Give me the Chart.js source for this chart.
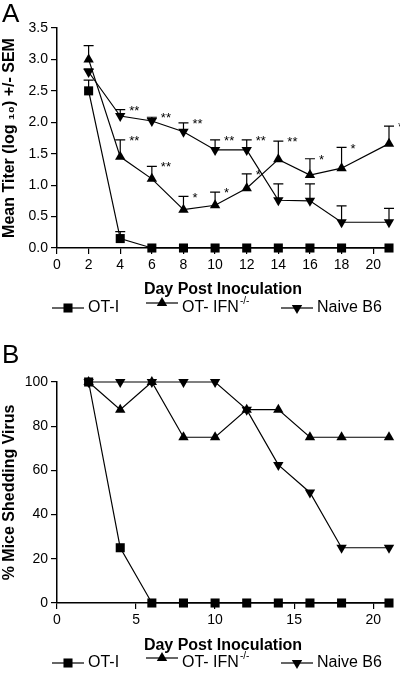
<!DOCTYPE html>
<html>
<head>
<meta charset="utf-8">
<script src="https://cdn.jsdelivr.net/npm/chart.js@4.4.1/dist/chart.umd.min.js"></script>
<style>
  html, body { margin: 0; padding: 0; background: #fff; }
  body { width: 400px; height: 678px; position: relative; overflow: hidden; font-family: "Liberation Sans", Arial, sans-serif; }
  .panel { position: absolute; left: 0; width: 400px; }
  #panelA { top: 0; height: 330px; }
  #panelB { top: 330px; height: 348px; }
  .tag { position: absolute; left: 2px; font-size: 26px; color: #000; line-height: 1; }
</style>
</head>
<body>
<div class="panel" id="panelA"><canvas id="chartA" width="400" height="330"></canvas></div>
<div class="panel" id="panelB"><canvas id="chartB" width="400" height="348"></canvas></div>
<div class="tag" style="top:0px">A</div>
<div class="tag" style="top:341px">B</div>
<script>
const days = [2, 4, 6, 8, 10, 12, 14, 16, 18, 21];

// panel A: mean titer (log10) and SEM
const otiTiter   = [2.5, 0.15, 0, 0, 0, 0, 0, 0, 0, 0];
const otiSem     = [0.17, 0.11, 0, 0, 0, 0, 0, 0, 0, 0];
const ifnTiter   = [3.0, 1.45, 1.1, 0.61, 0.68, 0.95, 1.41, 1.16, 1.27, 1.66];
const ifnSem     = [0.22, 0.27, 0.2, 0.21, 0.21, 0.23, 0.29, 0.26, 0.33, 0.28];
const naiveTiter = [2.8, 2.1, 2.02, 1.85, 1.56, 1.56, 0.76, 0.75, 0.41, 0.41];
const naiveSem   = [0.05, 0.1, 0.06, 0.14, 0.16, 0.16, 0.26, 0.27, 0.26, 0.22];
const ifnStars   = ['', '**', '**', '*', '*', '*', '**', '*', '*', '*'];
const naiveStars = ['', '**', '**', '**', '**', '**', '', '', '', ''];

// panel B: % mice shedding virus
const otiShed   = [100, 25, 0, 0, 0, 0, 0, 0, 0, 0];
const ifnShed   = [100, 87.5, 100, 75, 75, 87.5, 87.5, 75, 75, 75];
const naiveShed = [100, 100, 100, 100, 100, 87.5, 62.5, 50, 25, 25];

const yTicksA = [0, 0.5, 1.0, 1.5, 2.0, 2.5, 3.0, 3.5];
const xTicksA = [0, 2, 4, 6, 8, 10, 12, 14, 16, 18, 20];
const yTicksB = [0, 20, 40, 60, 80, 100];
const xTicksB = [0, 5, 10, 15, 20];

const FONT = '"Liberation Sans", Arial, sans-serif';
const seriesNames = ['OT-I', 'OT- IFN', 'Naive B6'];
const markers = [
  { pointStyle: 'rect', radius: 6.4, rotation: 0 },
  { pointStyle: 'triangle', radius: 6, rotation: 0 },
  { pointStyle: 'triangle', radius: 6, rotation: 180 }
];

function toPoints(vals) {
  return vals.map((v, i) => ({ x: days[i], y: v }));
}

function makeDataset(label, vals, m) {
  return {
    label: label,
    data: toPoints(vals),
    borderColor: '#000',
    backgroundColor: '#000',
    borderWidth: 1.2,
    pointStyle: m.pointStyle,
    pointRadius: m.radius,
    pointHoverRadius: m.radius,
    pointRotation: m.rotation,
    pointBorderWidth: 0,
    tension: 0,
    clip: false
  };
}

// error bars (+SEM only) under the markers, significance stars on top
const errorBars = {
  id: 'errorBars',
  beforeDatasetsDraw(chart, args, opts) {
    if (!opts.sems) return;
    const ctx = chart.ctx;
    const xs = chart.scales.x, ys = chart.scales.y;
    ctx.save();
    ctx.strokeStyle = '#000';
    ctx.lineWidth = 1.2;
    opts.sems.forEach((sem, di) => {
      const vals = chart.data.datasets[di].data;
      sem.forEach((s, i) => {
        if (!s) return;
        const px = xs.getPixelForValue(vals[i].x);
        const y0 = ys.getPixelForValue(vals[i].y);
        const y1 = ys.getPixelForValue(vals[i].y + s);
        ctx.beginPath();
        ctx.moveTo(px, y0);
        ctx.lineTo(px, y1);
        ctx.moveTo(px - 5, y1);
        ctx.lineTo(px + 5, y1);
        ctx.stroke();
      });
    });
    ctx.restore();
  },
  afterDatasetsDraw(chart, args, opts) {
    if (!opts.stars) return;
    const ctx = chart.ctx;
    const xs = chart.scales.x, ys = chart.scales.y;
    ctx.save();
    ctx.fillStyle = '#000';
    ctx.font = '13px ' + FONT;
    ctx.textAlign = 'left';
    ctx.textBaseline = 'top';
    opts.stars.forEach(st => {
      const vals = chart.data.datasets[st.ds].data;
      const sem = opts.sems[st.ds];
      st.labels.forEach((t, i) => {
        if (!t) return;
        const px = xs.getPixelForValue(vals[i].x);
        const py = ys.getPixelForValue(vals[i].y + sem[i]);
        ctx.fillText(t, px + 9, py - 5);
      });
    });
    ctx.restore();
  }
};

// legend: line segment with marker, label with superscript for IFN-/-
const lineLegend = {
  id: 'lineLegend',
  afterDraw(chart, args, opts) {
    const ctx = chart.ctx;
    const y = opts.y;
    ctx.save();
    chart.data.datasets.forEach((ds, i) => {
      const x0 = opts.starts[i];
      const ly = i === 1 ? y - 5 : y;
      ctx.strokeStyle = '#000';
      ctx.lineWidth = 1.2;
      ctx.beginPath();
      ctx.moveTo(x0, ly);
      ctx.lineTo(x0 + 32, ly);
      ctx.stroke();
      Chart.helpers.drawPoint(ctx, {
        pointStyle: ds.pointStyle,
        radius: ds.pointRadius,
        rotation: ds.pointRotation,
        borderWidth: 0
      }, x0 + 16, ly);
      ctx.fillStyle = '#000';
      ctx.font = '16px ' + FONT;
      ctx.textAlign = 'left';
      ctx.textBaseline = 'middle';
      ctx.fillText(ds.label, x0 + 36, y);
      if (i === 1) {
        const w = ctx.measureText(ds.label).width;
        ctx.font = '10px ' + FONT;
        ctx.fillText('-/-', x0 + 36 + w + 1, y - 7);
      }
    });
    ctx.restore();
  }
};

function axisCommon(min, max, ticks, fmt, title, fit) {
  return {
    type: 'linear',
    min: min,
    max: max,
    afterBuildTicks: s => { s.ticks = ticks.map(v => ({ value: v })); },
    afterFit: fit,
    ticks: {
      color: '#000',
      font: { family: FONT, size: 14 },
      padding: 3,
      maxRotation: 0,
      autoSkip: false,
      callback: fmt
    },
    grid: { display: true, drawOnChartArea: false, drawTicks: true, tickLength: 6, color: '#000', lineWidth: 1.2 },
    border: { display: true, color: '#000', width: 1.5 },
    title: {
      display: true,
      text: title,
      color: '#000',
      font: { family: FONT, size: 16, weight: 'bold' },
      padding: { top: 0, bottom: 4 }
    }
  };
}

function buildChart(id, sets, opt) {
  return new Chart(document.getElementById(id), {
    type: 'line',
    data: { datasets: sets },
    options: {
      responsive: false,
      animation: false,
      events: [],
      layout: { padding: opt.padding },
      plugins: {
        legend: { display: false },
        tooltip: { enabled: false },
        errorBars: { sems: opt.sems, stars: opt.stars },
        lineLegend: { y: opt.legendY, starts: [52, 146, 281] }
      },
      scales: {
        x: axisCommon(0, 21, opt.xTicks, v => String(v), 'Day Post Inoculation', s => { s.height = opt.xHeight; }),
        y: axisCommon(opt.yMin, opt.yMax, opt.yTicks, opt.yFmt, opt.yTitle, s => { s.width = 57; })
      }
    },
    plugins: [errorBars, lineLegend]
  });
}

buildChart('chartA', [
  makeDataset(seriesNames[0], otiTiter, markers[0]),
  makeDataset(seriesNames[1], ifnTiter, markers[1]),
  makeDataset(seriesNames[2], naiveTiter, markers[2])
], {
  padding: { left: 0, right: 11, top: 28, bottom: 27 },
  xHeight: 55,
  xTicks: xTicksA,
  yMin: 0, yMax: 3.5,
  yTicks: yTicksA,
  yFmt: v => Number(v).toFixed(1),
  yTitle: 'Mean Titer (log \u2081\u2080) +/- SEM',
  sems: [otiSem, ifnSem, naiveSem],
  stars: [{ ds: 1, labels: ifnStars }, { ds: 2, labels: naiveStars }],
  legendY: 308
});

buildChart('chartB', [
  makeDataset(seriesNames[0], otiShed, markers[0]),
  makeDataset(seriesNames[1], ifnShed, markers[1]),
  makeDataset(seriesNames[2], naiveShed, markers[2])
], {
  padding: { left: 0, right: 11, top: 52, bottom: 19 },
  xHeight: 56,
  xTicks: xTicksB,
  yMin: 0, yMax: 100,
  yTicks: yTicksB,
  yFmt: v => String(v),
  yTitle: '% Mice Shedding Virus',
  sems: null,
  stars: null,
  legendY: 333
});
</script>
</body>
</html>
